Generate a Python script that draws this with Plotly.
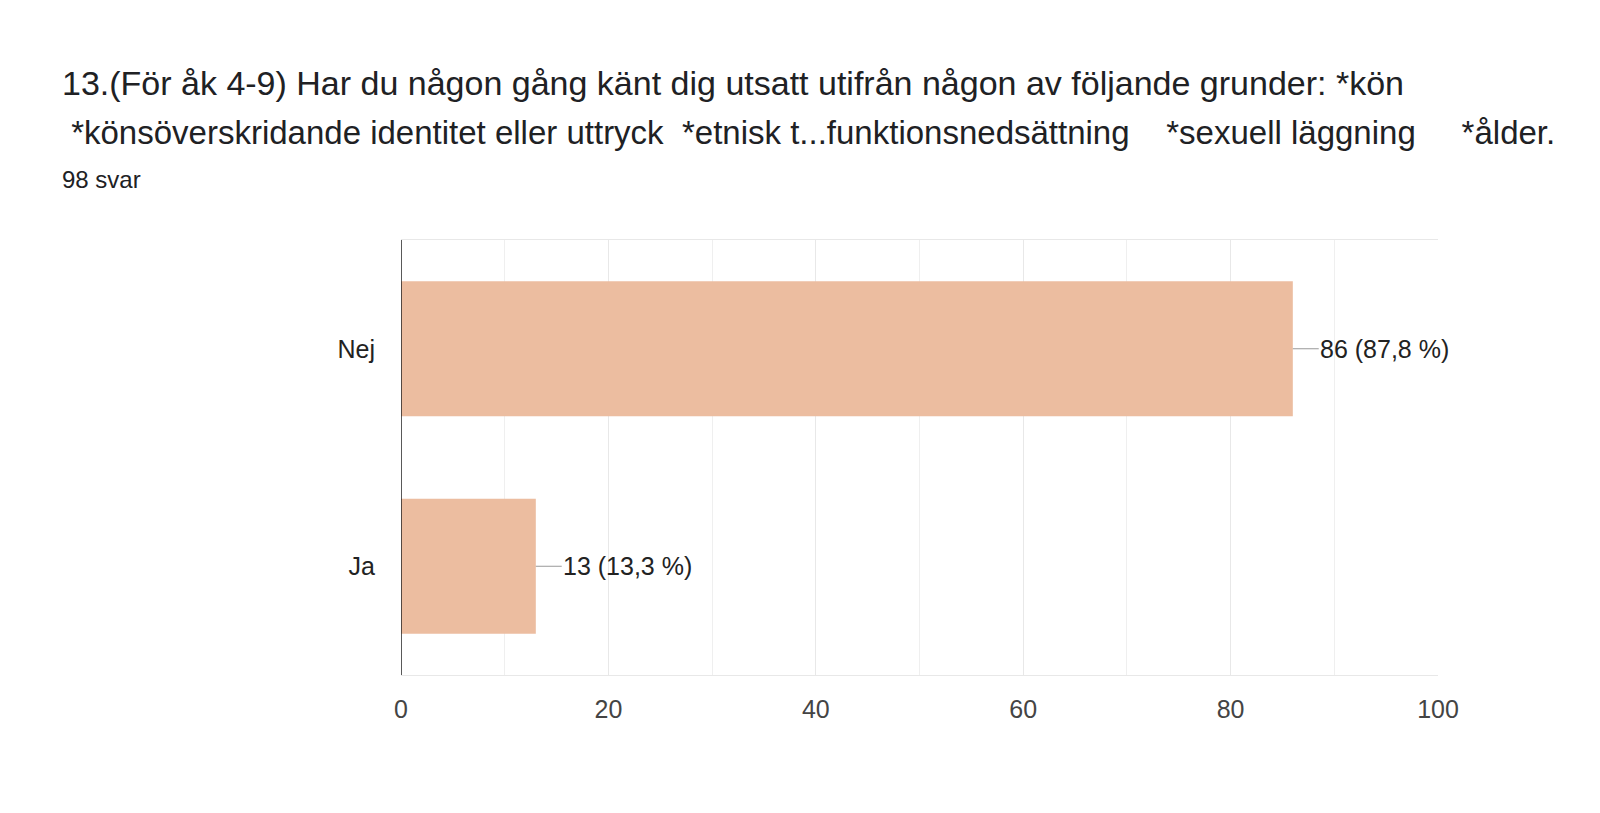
import plotly.graph_objects as go

kategorier = ["Ja", "Nej"]
antal = [13, 86]
etiketter = ["13 (13,3 %)", "86 (87,8 %)"]

fig = go.Figure()

fig.add_bar(
    y=kategorier, x=antal, orientation="h",
    marker=dict(color="#ECBDA0", line=dict(width=0)),
    width=0.62, hoverinfo="x+y",
)

# korta linjer fran stapeln till etiketten
for k, v, t in zip(kategorier, antal, etiketter):
    fig.add_scatter(x=[v, v + 2.5], y=[k, k], mode="lines",
                    line=dict(color="#999999", width=1), hoverinfo="skip")
    fig.add_annotation(x=v + 2.5, y=k, text=t, showarrow=False, xanchor="left",
                       font=dict(size=25, color="#222222"), xshift=-1)

fig.add_annotation(
    xref="paper", yref="paper", x=-0.329, y=1.361, xanchor="left", yanchor="middle",
    text="13.(För åk 4-9) Har du någon gång känt dig utsatt utifrån någon av följande grunder: *kön",
    showarrow=False, font=dict(size=34, color="#202124"), align="left")
fig.add_annotation(
    xref="paper", yref="paper", x=-0.329, y=1.246, xanchor="left", yanchor="middle",
    text=" *könsöverskridande identitet eller uttryck  *etnisk t...funktionsnedsättning    *sexuell läggning     *ålder.",
    showarrow=False, font=dict(size=33, color="#202124"), align="left")
fig.add_annotation(
    xref="paper", yref="paper", x=-0.329, y=1.140, xanchor="left", yanchor="middle",
    text="98 svar", showarrow=False, font=dict(size=24, color="#202124"))

fig.update_layout(
    width=1600, height=813,
    margin=dict(l=393, r=170, t=232, b=146),
    plot_bgcolor="white", paper_bgcolor="white",
    showlegend=False,
    font=dict(family="Liberation Sans, Arial, sans-serif", color="#222222"),
)
fig.update_xaxes(
    range=[0, 100], tickvals=[0, 20, 40, 60, 80, 100],
    tickfont=dict(size=25, color="#444444"), ticklabelstandoff=12,
    showgrid=True, gridcolor="#E8E8E8", zeroline=False,
    minor=dict(dtick=10, showgrid=True, gridcolor="#EFEFEF"),
    showline=True, linecolor="#E8E8E8", mirror=True, ticks="",
)
fig.update_yaxes(
    tickfont=dict(size=25, color="#222222"), ticks="", ticklabelstandoff=25,
    showline=False, showgrid=False, zeroline=False,
)
fig.add_shape(type="line", xref="x", yref="paper", x0=0, x1=0, y0=0, y1=1,
              line=dict(color="#222222", width=1.5))

fig.write_html("out.html")
